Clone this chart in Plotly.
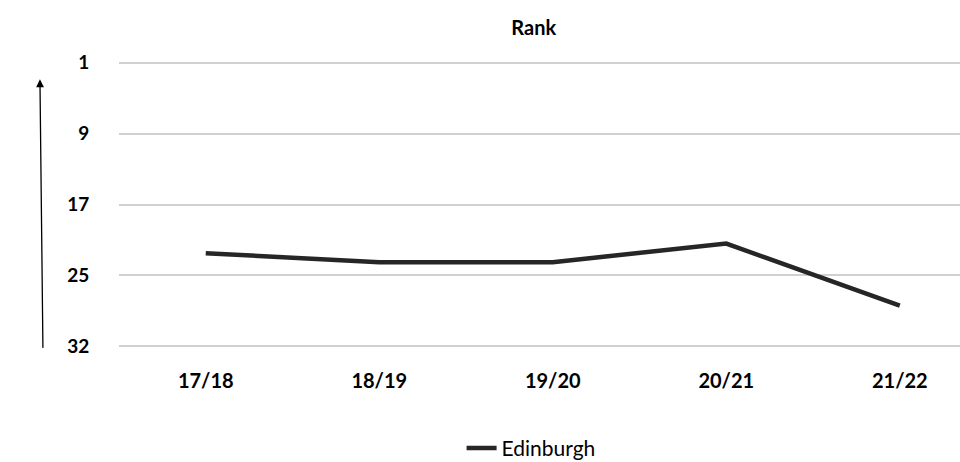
import plotly.graph_objects as go

seasons = ["17/18", "18/19", "19/20", "20/21", "21/22"]
edinburgh_rank = [22.5, 23.5, 23.5, 21.4, 28.4]
rank_ticks = [1, 9, 17, 25, 33]
rank_tick_labels = ["1", "9", "17", "25", "32"]

fig = go.Figure()
fig.add_trace(go.Scatter(x=seasons, y=edinburgh_rank, mode="lines", name="Edinburgh",
                         line=dict(color="#262626", width=4.5)))

# plot area: y=1 at ~63px, y=33 at ~347px (8.86 px per rank)
fig.update_layout(
    width=960, height=462,
    paper_bgcolor="white", plot_bgcolor="white",
    margin=dict(l=119, r=0, t=59, b=112, autoexpand=False),
    font=dict(family="Lato", color="black"),
    title=dict(text="<b>Rank</b>", x=0.556, xanchor="center", y=0.94, yanchor="middle",
               font=dict(size=20, family="Lato", color="black")),
    showlegend=True,
    legend=dict(orientation="h", x=0.49, xanchor="center", y=-0.338, yanchor="middle",
                font=dict(size=21, family="Lato", color="black")),
)

fig.update_xaxes(range=[-0.5, 4.347], showgrid=False, showline=False, zeroline=False,
                 ticks="outside", ticklen=13, tickcolor="white",
                 tickfont=dict(size=20, family="Lato", color="black"),
                 tickprefix="<b>", ticksuffix="</b>")
fig.update_yaxes(range=[33.4, 0.6], tickvals=rank_ticks,
                 ticktext=["<b>" + t + "</b>" for t in rank_tick_labels],
                 showgrid=True, gridcolor="#d0d0d0", gridwidth=1.5, zeroline=False,
                 showline=False, ticks="outside", ticklen=25, tickcolor="white",
                 tickfont=dict(size=19, family="Lato", color="black"))

# arrow on the left side
fig.add_annotation(xref="paper", yref="paper", x=-0.094, y=0.93, text="",
                   showarrow=True, arrowhead=2, arrowsize=1.2, arrowwidth=1.3,
                   arrowcolor="black", ax=3, ay=270)

fig.write_html("out.html", config={"displayModeBar": False},
               post_script="document.body.style.margin='0';")
